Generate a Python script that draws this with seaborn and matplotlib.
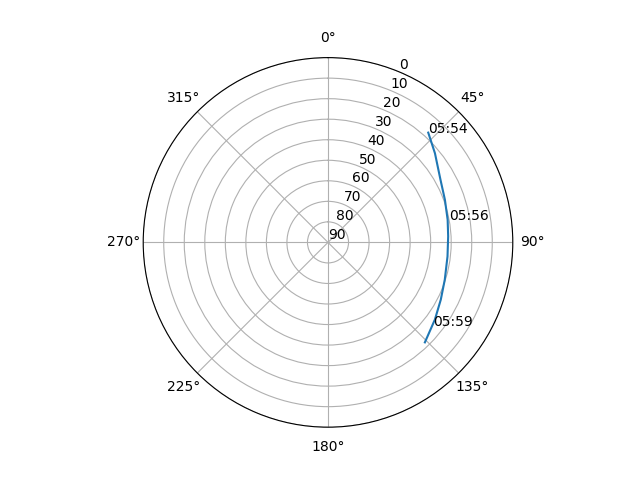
import numpy as np
import matplotlib
matplotlib.use("Agg")
import matplotlib.pyplot as plt
import seaborn as sns

# Satellite pass: azimuth (deg) and elevation (deg)
azimuth = [42.4, 50.2, 60.9, 70.0, 79.3, 87.1, 96.7, 107.7, 116.9, 125.8, 135.9]
elevation = [17.6, 22.2, 27.3, 29.4, 30.7, 31.4, 31.4, 30.3, 28.4, 25.8, 22.2]

label_times = ["05:54", "05:56", "05:59"]
label_az = [42.5, 79.4, 128.7]
label_el = [17.9, 30.0, 24.7]

plt.rcParams['font.family'] = ['DejaVu Sans']

fig = plt.figure(figsize=(6.4, 4.8), dpi=100)
ax = fig.add_subplot(111, projection='polar')
ax.set_theta_zero_location('N')
ax.set_theta_direction(-1)

sns.lineplot(x=np.radians(azimuth), y=elevation, ax=ax, sort=False)

for t, a, e in zip(label_times, label_az, label_el):
    ax.text(np.radians(a), e, t)

ax.set_rlim(90, 0)
ax.set_yticks(range(0, 91, 10))
ax.set_xlabel('')
ax.set_ylabel('')

fig.savefig('out.png')
